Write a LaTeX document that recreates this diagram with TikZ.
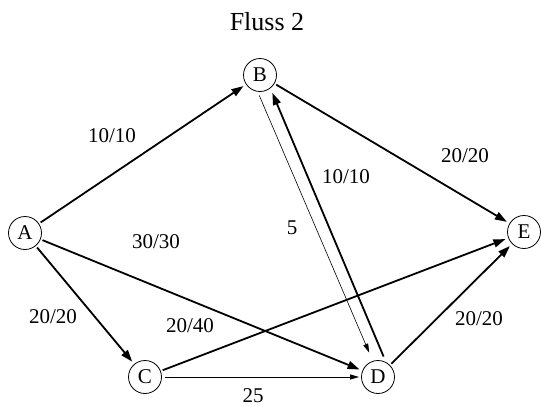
\documentclass[tikz,border=0pt]{standalone}
\usepackage{fontspec}
\setmainfont{Liberation Serif}
\usetikzlibrary{arrows.meta}

\begin{document}
\begin{tikzpicture}[x=1pt,y=-1pt,
  vertex/.style={draw,circle,minimum size=33pt,inner sep=0pt,line width=0.8pt,font=\fontsize{21}{23}\selectfont},
  flow/.style={-{Triangle[length=12pt,width=8pt]},line width=1.8pt,shorten <=2pt,shorten >=3pt},
  rest/.style={-{Triangle[length=9pt,width=5pt]},line width=0.8pt},
  lbl/.style={inner sep=1pt,font=\fontsize{21}{23}\selectfont}]
\useasboundingbox (0,0) rectangle (541,407);
\node[font=\fontsize{26}{28}\selectfont] (title) at (267,22) {Fluss 2};
% vertices
\node[vertex] (A) at (25,233) {A};
\node[vertex] (B) at (260,75) {B};
\node[vertex] (C) at (145,377) {C};
\node[vertex] (D) at (378,377) {D};
\node[vertex] (E) at (524,232) {E};
% edges
\draw[flow] (A) -- (B);
\draw[flow] (B) -- (E);
\draw[flow] (A) -- (C);
\draw[flow] (A) -- (D);
\draw[flow] (C) -- (E);
\draw[flow] (D) -- (E);
\draw[flow,shorten <=6pt,shorten >=5pt] (D.62) -- (B.-52);
\draw[rest,line width=0.6pt,shorten <=4pt,shorten >=9pt] (B.-98) -- (D.108);
\draw[rest,line width=1pt,shorten <=3pt,shorten >=2pt] (C) -- (D);
% labels
\node[lbl] (lab) at (112,136) {10/10};
\node[lbl] (lbe) at (465,156) {20/20};
\node[lbl] (ldb) at (346,177) {10/10};
\node[lbl] (lbd) at (292,228) {5};
\node[lbl] (lad) at (156,242) {30/30};
\node[lbl] (lac) at (53,317) {20/20};
\node[lbl] (lce) at (190,326) {20/40};
\node[lbl] (lde) at (479,319) {20/20};
\node[lbl] (lcd) at (253,396) {25};
\end{tikzpicture}
\end{document}
